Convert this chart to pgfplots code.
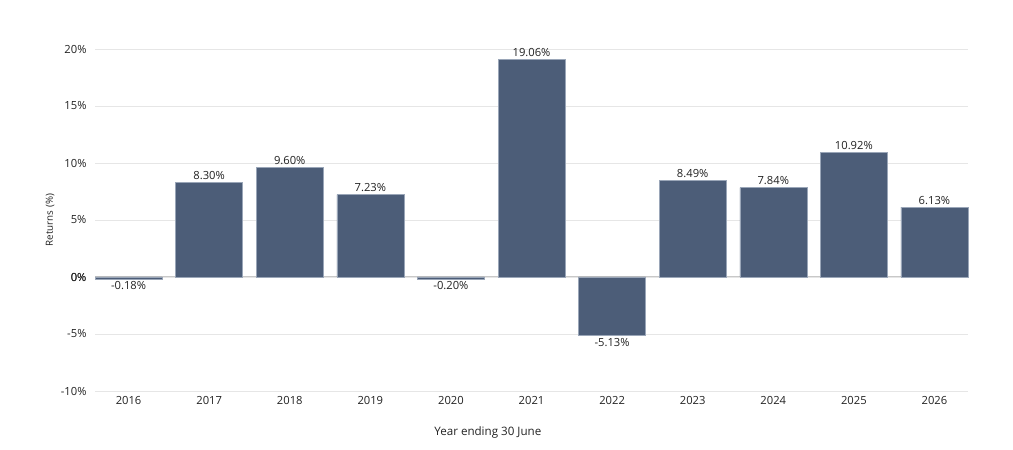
\documentclass[border=0pt]{standalone}
\usepackage{fontspec}
\setmainfont{Open Sans}
\usepackage{pgfplots}
\pgfplotsset{compat=1.18}
\definecolor{barc}{HTML}{4C5D78}
\definecolor{bare}{HTML}{9AA6B8}
\definecolor{gridc}{HTML}{E6E6E6}
\definecolor{zeroc}{HTML}{C8C8C8}
\definecolor{txt}{HTML}{222222}
\begin{document}
\begin{tikzpicture}
\useasboundingbox (0,0) rectangle (1013pt,450pt);
\begin{axis}[
  at={(95pt,59pt)}, anchor=south west,
  scale only axis, width=873pt, height=342pt,
  xmin=-0.4166, xmax=10.4166, ymin=-10, ymax=20,
  ytick={-10,-5,0,5,10,15,20},
  xtick={0,...,10},
  xticklabels={2016,2017,2018,2019,2020,2021,2022,2023,2024,2025,2026},
  /pgf/number format/assume math mode=true,
  yticklabel={\pgfmathprintnumber{\tick}\%},
  axis line style={draw=none},
  major tick length=0pt,
  ymajorgrids, grid style={gridc, line width=0.8pt},
  extra y ticks={0}, extra y tick style={grid style={zeroc, line width=1pt}},
  tick label style={font=\fontsize{11.2}{13}\selectfont, text=txt},
  yticklabel style={xshift=-5pt},
  xticklabel style={yshift=-2pt},
  xlabel={Year ending 30 June},
  xlabel style={at={(axis description cs:0.450,0)}, anchor=center, yshift=-41pt, font=\fontsize{11.6}{13}\selectfont, text=txt},
  ylabel={Returns (\%)},
  ylabel style={at={(axis description cs:-0.0515,0.5)}, anchor=center, font=\fontsize{9.8}{12}\selectfont, text=txt},
  ybar, bar width=67pt,
  nodes near coords={\pgfmathprintnumber[fixed,fixed zerofill,precision=2]{\pgfplotspointmeta}\%},
  nodes near coords style={font=\fontsize{11.2}{13}\selectfont, text=txt},
  clip=false,
]
\addplot[bar shift=0pt, fill=barc, draw=bare, line width=0.5pt,
  nodes near coords style={anchor=south, yshift=-1pt}]
  coordinates {(1,8.30) (2,9.60) (3,7.23) (5,19.06) (7,8.49) (8,7.84) (9,10.92) (10,6.13)};
\addplot[bar shift=0pt, fill=barc, draw=bare, line width=0.5pt,
  nodes near coords style={anchor=north, yshift=1pt}]
  coordinates {(0,-0.18) (4,-0.20) (6,-5.13)};
\end{axis}
\end{tikzpicture}
\end{document}
